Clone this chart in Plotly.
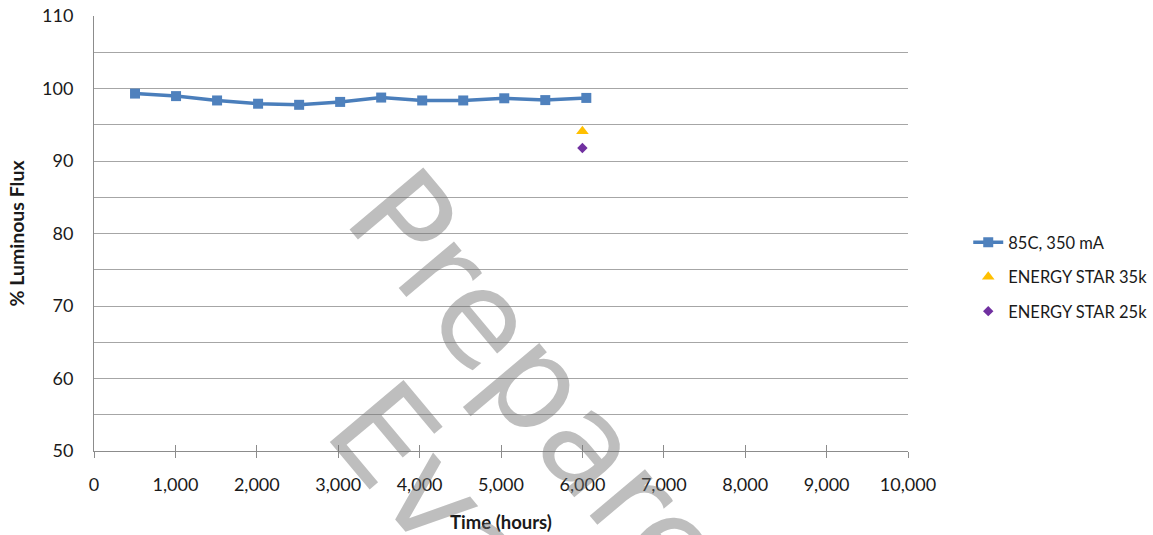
import plotly.graph_objects as go

# ---- data ----
hours = [504, 1008, 1512, 2016, 2520, 3024, 3528, 4032, 4536, 5040, 5544, 6048]
flux_85c = [99.3, 98.95, 98.35, 97.9, 97.75, 98.15, 98.75, 98.35, 98.35, 98.65, 98.4, 98.7]
es35_hours = [6000]
es35_flux = [94.1]
es25_hours = [6000]
es25_flux = [91.8]

series_names = ["85C, 350 mA", "ENERGY STAR 35k", "ENERGY STAR 25k"]
x_title = "Time (hours)"
y_title = "% Luminous Flux"
watermark_lines = ["Prepared", "Evaluation"]

FONT = "Lato, 'Open Sans', Arial, sans-serif"
GRID = "#a6a6a6"
AXIS = "#8c8c8c"

fig = go.Figure()
fig.add_trace(go.Scatter(
    x=hours, y=flux_85c, name=series_names[0], mode="lines+markers",
    line=dict(color="#4A7EBB", width=3.5),
    marker=dict(symbol="square", size=10, color="#4F81BD"),
    legendgroup="a",
))
fig.add_trace(go.Scatter(
    x=es35_hours, y=es35_flux, name=series_names[1], mode="markers",
    marker=dict(symbol="triangle-up", size=11, color="#FFC000"),
    legendgroup="b",
))
fig.add_trace(go.Scatter(
    x=es25_hours, y=es25_flux, name=series_names[2], mode="markers",
    marker=dict(symbol="diamond", size=8, color="#7030A0"),
    legendgroup="c",
))
# helper trace for inside tick marks on the x axis
fig.add_trace(go.Scatter(x=[0], y=[50], xaxis="x2", mode="markers",
                         marker=dict(opacity=0), showlegend=False, hoverinfo="skip"))

fig.update_layout(
    width=1153, height=535,
    margin=dict(l=94, r=245, t=16, b=84, autoexpand=False),
    paper_bgcolor="white", plot_bgcolor="white",
    font=dict(family=FONT, size=18, color="#1a1a1a"),
    showlegend=True,
    legend=dict(
        x=1.074, xanchor="left", y=0.40, yanchor="middle",
        font=dict(family=FONT, size=16.5, color="#1a1a1a"),
        tracegroupgap=10, bgcolor="rgba(0,0,0,0)", borderwidth=0,
    ),
    xaxis=dict(
        range=[0, 10000], dtick=1000, tick0=0, tickformat=",", automargin=False,
        showgrid=False, zeroline=False,
        showline=True, linecolor=AXIS, linewidth=1,
        ticks="outside", ticklen=6, tickcolor=AXIS, tickwidth=1,
        ticklabelstandoff=11,
        title=dict(text="<b>" + x_title + "</b>", font=dict(family=FONT, size=18.5, color="#1a1a1a"), standoff=22),
    ),
    xaxis2=dict(
        range=[0, 10000], dtick=1000, tick0=0, overlaying="x", anchor="y", side="bottom",
        showgrid=False, zeroline=False, showline=False, showticklabels=False, automargin=False,
        ticks="inside", ticklen=6, tickcolor=AXIS, tickwidth=1,
    ),
    yaxis=dict(
        range=[50, 110], dtick=10, tick0=50, automargin=True,
        showgrid=True, gridcolor=GRID, gridwidth=1,
        minor=dict(dtick=5, tick0=50, showgrid=True, gridcolor=GRID, gridwidth=1),
        zeroline=False, showline=True, linecolor=AXIS, linewidth=1,
        ticks="", ticklabelstandoff=16,
        title=dict(text="<b>" + y_title + "</b>", font=dict(family=FONT, size=19.5, color="#1a1a1a"), standoff=12),
    ),
)

# watermark
for txt, xp, yp in [(watermark_lines[0], 0.580, 0.080), (watermark_lines[1], 0.598, -0.50)]:
    fig.add_annotation(
        text=txt, xref="paper", yref="paper", x=xp, y=yp,
        xanchor="center", yanchor="middle", showarrow=False, textangle=50,
        font=dict(family="DejaVu Sans", size=132, color="rgba(110,110,110,0.45)"),
    )

fig.write_html("out.html", config={"displayModeBar": False},
               post_script="document.body.style.margin='0';")
